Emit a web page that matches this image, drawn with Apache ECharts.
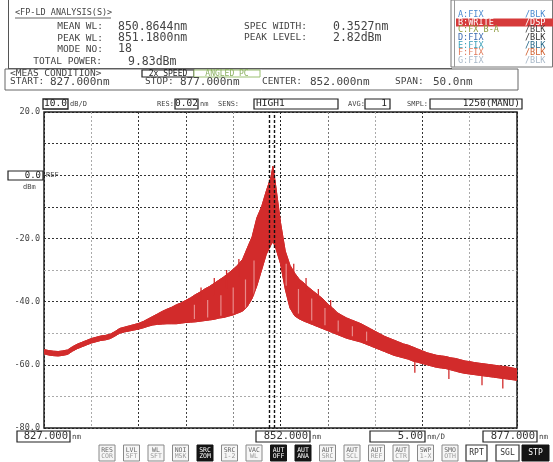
<!DOCTYPE html>
<html><head><meta charset="utf-8">
<script src="https://cdn.jsdelivr.net/npm/echarts@6/dist/echarts.min.js"></script>
<style>html,body{margin:0;padding:0;background:#fff}#c{width:553px;height:462px}</style>
</head><body><div id="c"></div><script>
// ---- data ----
const xRange = [827, 877];
const yRange = [-80, 20];
const yLabelValues = [20, -20, -40, -60, -80];
const markerWl = [850.85, 851.3];
// trace band: wavelength (nm), upper and lower edge of the red trace (dBm)
const bandWl = [
 827,827.5,828,828.5,829,829.5,830,830.5,831,831.5,832,832.5,833,833.5,834,834.5,835,835.5,836,836.5,837,837.5,838,838.5,839,839.5,
 840,840.5,841,841.5,842,842.5,843,843.5,844,844.5,845,845.5,846,846.5,847,847.5,848,848.5,849,849.5,850,850.5,851,851.2,851.5,
 852,852.5,853,853.5,854,854.5,855,855.5,856,856.5,857,857.5,858,858.5,859,859.5,860,860.5,861,861.5,862,862.5,863,863.5,
 864,864.5,865,865.5,866,866.5,867,867.5,868,868.5,869,869.5,870,870.5,871,871.5,872,872.5,873,873.5,874,874.5,875,875.5,876,876.5,877
];
const bandUpper = [
 -55.2,-55.5,-55.7,-55.8,-55.6,-55.3,-54.3,-53.5,-52.9,-52.3,-51.7,-51.3,-50.9,-50.7,-50.3,-49.5,-48.5,-48.1,-47.7,-47.3,-46.9,-46.3,-45.5,-44.7,-43.9,-43.1,
 -42.4,-41.8,-41.0,-40.4,-39.6,-38.8,-37.8,-37.0,-36.0,-35.2,-34.2,-33.2,-32.2,-31.0,-29.8,-28.4,-26.6,-23.0,-19.5,-13.5,-10.0,-5.0,-0.5,2.8,-3.5,
 -15.0,-24.0,-28.5,-31.0,-33.0,-34.2,-35.6,-36.8,-38.0,-39.2,-40.8,-42.0,-43.5,-44.4,-45.2,-45.8,-46.4,-47.0,-47.8,-48.6,-49.4,-50.2,-51.0,-51.6,
 -52.2,-52.8,-53.4,-53.8,-54.4,-55.0,-55.6,-56.2,-56.6,-57.0,-57.2,-57.4,-57.8,-58.0,-58.4,-58.8,-59.0,-59.3,-59.5,-59.7,-59.9,-60.1,-60.3,-60.5,-60.7,-61.0,-61.3
];
const bandLower = [
 -56.5,-56.9,-57.1,-57.2,-57.0,-56.7,-55.7,-54.9,-54.3,-53.7,-53.1,-52.7,-52.3,-52.1,-51.7,-50.9,-50.0,-49.6,-49.3,-49.0,-48.7,-48.3,-47.8,-47.4,-47.2,-47.1,
 -47.0,-47.0,-47.0,-46.8,-46.6,-46.5,-46.4,-46.2,-46.0,-45.8,-45.6,-45.2,-45.0,-44.6,-44.2,-43.6,-43.0,-41.5,-39.0,-35.0,-30.0,-25.0,-22.0,-21.0,-23.0,
 -28.0,-36.0,-42.0,-44.5,-45.5,-46.2,-46.8,-47.4,-48.0,-48.6,-49.2,-49.8,-50.4,-51.0,-51.6,-52.0,-52.4,-52.8,-53.4,-54.0,-54.6,-55.2,-55.8,-56.4,
 -57.0,-57.4,-57.8,-58.2,-58.8,-59.2,-59.6,-60.0,-60.4,-60.8,-61.0,-61.2,-61.6,-62.0,-62.4,-62.7,-62.9,-63.1,-63.3,-63.5,-63.7,-63.9,-64.1,-64.3,-64.5,-64.7,-64.9
];
// individual mode spikes sticking out of the band: wavelength, from, to (dBm)
const spikeWl   = [843.6, 845.0, 846.3, 847.6, 853.4, 854.7, 856.0, 857.3, 866.2, 869.8, 873.3, 875.5];
const spikeFrom = [-40.0, -38.0, -36.0, -32.0, -33.0, -37.0, -40.0, -43.0, -58.5, -61.0, -63.0, -64.0];
const spikeTo   = [-35.5, -32.5, -30.0, -26.5, -28.0, -32.5, -36.0, -39.5, -62.5, -64.5, -66.5, -67.5];
// lighter gaps between modes inside the band: wavelength, from, to (dBm)
const gapWl   = [842.9, 844.3, 845.7, 847.0, 848.3, 849.2, 852.6, 853.9, 855.3, 856.7, 858.1, 859.6, 861.1];
const gapFrom = [-45.5, -45.0, -44.5, -43.8, -42.0, -38.0, -35.0, -43.8, -46.0, -47.5, -49.5, -51.0, -52.5];
const gapTo   = [-41.0, -39.5, -38.0, -35.5, -33.0, -27.0, -28.0, -36.0, -39.0, -42.0, -46.0, -47.8, -49.5];

// ---- build ----
const F = '"DejaVu Sans Mono", monospace';
const RED = '#d22b2b';
function txt(x, y, s, size, color, align, extra) {
  return Object.assign({type: 'text', x: x, y: y, silent: true, z: 100,
    style: {text: s, fill: color || '#333', fontSize: size || 10, fontFamily: F,
      align: align || 'left', verticalAlign: 'middle'}}, extra || {});
}
function rect(x, y, w, h, fill, stroke, lw) {
  return {type: 'rect', silent: true, z: 99, shape: {x: x, y: y, width: w, height: h},
    style: {fill: fill || '#fff', stroke: stroke || '#333', lineWidth: lw == null ? 1 : lw}};
}
function line(x1, y1, x2, y2, stroke, lw) {
  return {type: 'line', silent: true, z: 99, shape: {x1: x1, y1: y1, x2: x2, y2: y2},
    style: {stroke: stroke || '#444', lineWidth: lw || 1}};
}
const g = [];
// analysis panel
g.push(line(8.5, 0, 8.5, 68.5, '#555'));
g.push(line(8, 68.5, 452, 68.5, '#555'));
g.push(txt(15, 13, '<FP-LD ANALYSIS(S)>', 8.5, '#444'));
g.push(line(15, 18, 111, 18, '#666'));
g.push(txt(103, 27, 'MEAN WL:', 9.5, '#444', 'right'));
g.push(txt(118, 27, '850.8644nm', 11.5, '#444'));
g.push(txt(103, 38.5, 'PEAK WL:', 9.5, '#444', 'right'));
g.push(txt(118, 38.5, '851.1800nm', 11.5, '#444'));
g.push(txt(103, 49.5, 'MODE NO:', 9.5, '#444', 'right'));
g.push(txt(118, 49.5, '18', 11.5, '#444'));
g.push(txt(102, 62, 'TOTAL POWER:', 9.5, '#444', 'right'));
g.push(txt(128, 62, '9.83dBm', 11.5, '#444'));
g.push(txt(307, 27, 'SPEC WIDTH:', 9.5, '#444', 'right'));
g.push(txt(333, 27, '0.3527nm', 11.5, '#444'));
g.push(txt(307, 38, 'PEAK LEVEL:', 9.5, '#444', 'right'));
g.push(txt(333, 38, '2.82dBm', 11.5, '#444'));
// trace legend box
g.push(rect(451, 0, 101.5, 67, '#fff', '#777', 1));
g.push(line(454.5, 0, 454.5, 67, '#999', 1));
const legRows = [
  ['A:FIX', '/BLK', '#4a8ad0', '#4a8ad0'],
  ['B:WRITE', '/DSP', '#fff', '#fff'],
  ['C:FX B-A', '/BLK', '#8c9a3c', '#444'],
  ['D:FIX', '/BLK', '#3a6ab0', '#333'],
  ['E:FIX', '/BLK', '#3aa0b8', '#2a6a8a'],
  ['F:FIX', '/BLK', '#e07a5a', '#d06030'],
  ['G:FIX', '/BLK', '#a8b8c8', '#a8b8c8']
];
g.push(rect(456, 18.5, 97, 8, '#d63a3a', null, 0));
legRows.forEach((r, i) => {
  const y = 15 + i * 7.6;
  g.push(txt(458, y, r[0], 8.5, r[2]));
  g.push(txt(525, y, r[1], 8.5, r[3]));
});
// measurement condition box
g.push(rect(5, 69, 513, 21, 'rgba(0,0,0,0)', '#666', 1));
g.push(txt(10, 74, '<MEAS CONDITION>', 9.5, '#444'));
g.push(rect(142, 70, 52, 7, '#fff', '#222', 1.2));
g.push(txt(168, 73.5, '2x SPEED', 8, '#222', 'center'));
g.push(rect(194, 70, 66, 7, '#fff', '#9ac070', 1));
g.push(txt(227, 73.5, 'ANGLED PC', 8, '#8ab060', 'center'));
g.push(txt(10, 82, 'START:', 9.5, '#444'));
g.push(txt(50, 82, '827.000nm', 11, '#444'));
g.push(txt(145, 82, 'STOP:', 9.5, '#444'));
g.push(txt(180, 82, '877.000nm', 11, '#444'));
g.push(txt(262, 82, 'CENTER:', 9.5, '#444'));
g.push(txt(310, 82, '852.000nm', 11, '#444'));
g.push(txt(395, 82, 'SPAN:', 9.5, '#444'));
g.push(txt(433, 82, '50.0nm', 11, '#444'));
// settings row
g.push(rect(43, 99, 25, 10, '#fff', '#222', 1.3));
g.push(txt(55.5, 104, '10.0', 9.5, '#222', 'center'));
g.push(txt(70, 104, 'dB/D', 7, '#444'));
g.push(txt(157, 104, 'RES:', 7, '#444'));
g.push(rect(175, 99, 23, 10, '#fff', '#222', 1.2));
g.push(txt(186.5, 104, '0.02', 9.5, '#222', 'center'));
g.push(txt(200, 104, 'nm', 7, '#444'));
g.push(txt(218, 104, 'SENS:', 7, '#444'));
g.push(rect(254, 99, 84, 10, '#fff', '#222', 1.2));
g.push(txt(256, 104, 'HIGH1', 9.5, '#222'));
g.push(txt(348, 104, 'AVG:', 7, '#444'));
g.push(rect(365, 99, 25, 10, '#fff', '#222', 1.2));
g.push(txt(387, 104, '1', 9.5, '#222', 'right'));
g.push(txt(407, 104, 'SMPL:', 7, '#444'));
g.push(rect(430, 99, 92, 10, '#fff', '#222', 1.2));
g.push(txt(520, 104, '1250(MANU)', 9.5, '#222', 'right'));
// REF box
g.push(rect(8, 171, 35, 9, '#fff', '#222', 1.2));
g.push(txt(41, 175.5, '0.0', 9, '#222', 'right'));
g.push(txt(46, 175.5, 'REF', 7, '#444'));
g.push(txt(23, 187, 'dBm', 7, '#444'));
// bottom value boxes
function valBox(x, w, s, unit) {
  g.push(rect(x, 431, w, 11, '#fff', '#222', 1.2));
  g.push(txt(x + w - 2, 436.5, s, 10.5, '#333', 'right'));
  g.push(txt(x + w + 2, 437, unit, 7.5, '#444'));
}
valBox(17, 53, '827.000', 'nm');
valBox(256, 54, '852.000', 'nm');
valBox(370, 55, '5.00', 'nm/D');
valBox(483, 54, '877.000', 'nm');
// buttons
const buttons = [['RES','COR',0],['LVL','SFT',0],['WL','SFT',0],['NOI','MSK',0],['SRC','ZOM',1],['SRC','1-2',0],['VAC','WL',0],
  ['AUT','OFF',1],['AUT','ANA',1],['AUT','SRC',0],['AUT','SCL',0],['AUT','REF',0],['AUT','CTR',0],['SWP','1-X',0],['SMO','OTH',0]];
buttons.forEach((b, i) => {
  const x = 99 + i * 24.5;
  g.push(rect(x, 445, 16, 16, b[2] ? '#151515' : '#f6f6f6', b[2] ? '#151515' : '#888', 1));
  g.push(txt(x + 8, 450, b[0], 6.5, b[2] ? '#fff' : '#666', 'center'));
  g.push(txt(x + 8, 456.5, b[1], 6.5, b[2] ? '#fff' : '#999', 'center'));
});
g.push(rect(466, 445, 21, 16, '#fff', '#333', 1.2));
g.push(txt(476.5, 453, 'RPT', 8, '#333', 'center'));
g.push(rect(496, 445, 23, 16, '#fff', '#333', 1.2));
g.push(txt(507.5, 453, 'SGL', 8, '#333', 'center'));
g.push(rect(522, 445, 27, 16, '#151515', '#151515', 1));
g.push(txt(535.5, 453, 'STP', 8, '#fff', 'center'));

const upperData = bandWl.map((w, i) => [w, bandUpper[i]]);
const lowerData = bandWl.map((w, i) => [w, bandLower[i]]);
const spikeData = spikeWl.map((w, i) => [w, spikeFrom[i], spikeTo[i]]);
const gapData = gapWl.map((w, i) => [w, gapFrom[i], gapTo[i]]);
function segmentSeries(data, color, width, z) {
  return {
    type: 'custom', coordinateSystem: 'cartesian2d', clip: true, silent: true, z: z,
    data: data,
    renderItem: (params, api) => {
      const a = api.coord([api.value(0), api.value(1)]);
      const b = api.coord([api.value(0), api.value(2)]);
      return {type: 'line', shape: {x1: a[0], y1: a[1], x2: b[0], y2: b[1]}, style: {stroke: color, lineWidth: width}};
    }
  };
}

const chart = echarts.init(document.getElementById('c'), null, {renderer: 'canvas'});
chart.setOption({
  animation: false,
  backgroundColor: '#fff',
  grid: {left: 44, right: 36, top: 112, bottom: 34, show: true, borderColor: '#222', borderWidth: 1.5, backgroundColor: 'transparent'},
  xAxis: {
    type: 'value', min: xRange[0], max: xRange[1], interval: 5,
    axisLine: {show: false}, axisTick: {show: false}, axisLabel: {show: false},
    splitLine: {show: true, lineStyle: {type: [2, 2], width: 1,
      color: ['#222', '#aaa', '#333', '#444', '#888', '#222', '#777', '#aaa', '#333', '#aaa', '#222']}}
  },
  yAxis: {
    type: 'value', min: yRange[0], max: yRange[1], interval: 10,
    axisLine: {show: false}, axisTick: {show: false},
    axisLabel: {margin: 4, color: '#444', fontFamily: F, fontSize: 8.5,
      formatter: v => yLabelValues.indexOf(v) >= 0 ? v.toFixed(1) : ''},
    splitLine: {show: true, lineStyle: {type: [2, 2], width: 1,
      color: ['#222', '#aaa', '#333', '#aaa', '#333', '#aaa', '#333', '#333', '#333', '#333', '#222']}}
  },
  series: [
    {
      type: 'custom', coordinateSystem: 'cartesian2d', clip: true, silent: true, z: 2,
      data: [[852, -40]],
      renderItem: (params, api) => {
        const pts = [];
        for (let i = 0; i < upperData.length; i++) pts.push(api.coord(upperData[i]));
        for (let i = lowerData.length - 1; i >= 0; i--) pts.push(api.coord(lowerData[i]));
        return {type: 'polygon', shape: {points: pts}, style: {fill: RED, stroke: RED, lineWidth: 1}};
      }
    },
    segmentSeries(spikeData, RED, 1.3, 2),
    segmentSeries(gapData, 'rgba(240,170,170,0.75)', 1.2, 3),
    {
      type: 'line', data: upperData, symbol: 'none', clip: true, z: 3, silent: true,
      lineStyle: {color: RED, width: 1},
      markLine: {
        silent: true, symbol: 'none', label: {show: false},
        lineStyle: {color: '#111', type: [3, 2], width: 1.4},
        data: markerWl.map(w => ({xAxis: w}))
      }
    },
    {
      type: 'line', data: lowerData, symbol: 'none', clip: true, z: 3, silent: true,
      lineStyle: {color: RED, width: 1}
    }
  ],
  graphic: g
});
</script></body></html>
